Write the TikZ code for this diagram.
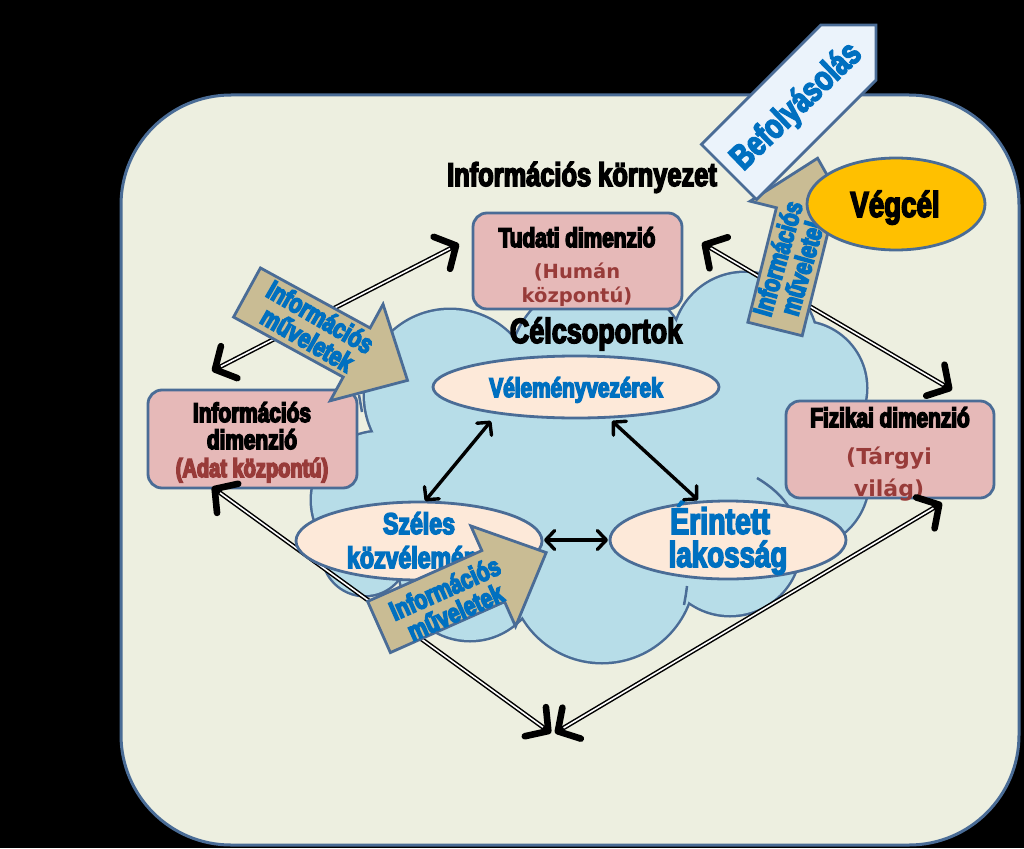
\documentclass[tikz,border=0pt]{standalone}
\usepackage{fontspec}
\usetikzlibrary{arrows.meta,shapes.geometric}
\newfontfamily\imp{Liberation Sans}[FakeStretch=0.77]
\newfontfamily\dvs{DejaVu Sans}
\newcommand\myfs[1]{\fontsize{#1}{#1}\selectfont}
\newcommand\heavy{\special{pdf:literal direct 2 Tr 1.5 w}}
\definecolor{envfill}{HTML}{EDEFE0}
\definecolor{bord}{HTML}{4A6C96}
\definecolor{cloudc}{HTML}{B7DDE8}
\definecolor{boxpink}{HTML}{E6B9B8}
\definecolor{peach}{HTML}{FDE9D9}
\definecolor{gold}{HTML}{FFC000}
\definecolor{tanc}{HTML}{C9BC94}
\definecolor{befc}{HTML}{EBF3FB}
\definecolor{bluet}{HTML}{0070C0}
\definecolor{redt}{HTML}{983B39}
\tikzset{
  dimbox/.style={fill=boxpink,draw=bord,line width=2.8pt,rounded corners=14pt,inner sep=0pt},
  grpell/.style={ellipse,fill=peach,draw=bord,line width=2.8pt,inner sep=0pt},
  itxt/.style={inner sep=0pt,anchor=base},
  blk/.style={font=\imp\bfseries\myfs{27}\heavy,text=black},
  rimp/.style={font=\imp\bfseries\myfs{26}\heavy,text=redt},
  bimp/.style={text=bluet},
  dblarr/.style={line width=4.6pt,black,{Straight Barb[round,length=16pt,width=36pt,line width=2pt 1]}-{Straight Barb[round,length=16pt,width=36pt,line width=2pt 1]}},
  dblcore/.style={white,line width=1.6pt,shorten <=10pt,shorten >=10pt},
  sarr/.style={line width=3.4pt,black,{Straight Barb[round,length=9pt,width=19pt]}-{Straight Barb[round,length=9pt,width=19pt]}},
  tanarr/.style={fill=tanc,draw=bord,line width=2.8pt,line join=miter},
  befarr/.style={fill=befc,draw=bord,line width=2.8pt,line join=miter},
  opstxt/.style={inner sep=0pt,align=center,text=bluet,font=\imp\bfseries\myfs{27}\heavy},
}
\begin{document}
\begin{tikzpicture}[x=1pt,y=-1pt]
\useasboundingbox (0,0) rectangle (1024,848);
\fill[black] (0,0) rectangle (1024,848);
% environment
\draw[fill=envfill,draw=bord,line width=3pt,rounded corners=110pt] (121,95) rectangle (1019,845);
\node[itxt,blk,font=\imp\bfseries\myfs{33}\heavy] (title) at (582,186) {Információs környezet};
% cloud
\foreach \cx/\cy/\r in {450/395/85,380/500/68,365/553/42,470/570/70,602/570/92,730/545/70,800/480/68,800/388/66,745/345/72,600/370/90}
  \draw[bord,line width=5pt] (\cx,\cy) circle (\r pt);
\foreach \cx/\cy/\r in {450/395/85,380/500/68,365/553/42,470/570/70,602/570/92,730/545/70,800/480/68,800/388/66,745/345/72,600/370/90}
  \fill[cloudc] (\cx,\cy) circle (\r pt);
\fill[cloudc] (590,470) ellipse (220pt and 130pt);
\draw[bord,line width=2.5pt] (757,478) .. controls (772,487) and (783,497) .. (790,509);
\draw[bord,line width=2.5pt] (687,586) .. controls (686,594) .. (684,605);
\draw[bord,line width=2.5pt] (359,395) -- (362,412);
% dimension boxes
\node[dimbox,minimum width=209pt,minimum height=96pt] (tud) at (577.5,261) {};
\node[itxt,blk] (tudA) at (577,247) {Tudati dimenzió};
\node[itxt,font=\dvs\bfseries\myfs{19.5},text=redt] (tudB) at (577,278) {(Humán};
\node[itxt,font=\dvs\bfseries\myfs{19.5},text=redt] (tudC) at (577,302) {központú)};
\node[dimbox,minimum width=209pt,minimum height=98pt] (inf) at (252.5,439) {};
\node[itxt,blk] (infA) at (252,422) {Információs};
\node[itxt,blk] (infB) at (252,449) {dimenzió};
\node[itxt,rimp] (infC) at (252,477) {(Adat központú)};
\node[dimbox,minimum width=208pt,minimum height=97pt] (fiz) at (890,449.5) {};
\node[itxt,blk] (fizA) at (890,427) {Fizikai dimenzió};
\node[itxt,font=\dvs\bfseries\myfs{22},text=redt] (fizB) at (889,464) {(Tárgyi};
\node[itxt,font=\dvs\bfseries\myfs{22},text=redt] (fizC) at (889,496) {világ)};
\node[itxt,blk,font=\imp\bfseries\myfs{35}\heavy] (cel) at (596,343) {Célcsoportok};
% double-line connectors
\coordinate (tlA) at (212,371); \coordinate (tlB) at (459,244);
\coordinate (trA) at (702,243); \coordinate (trB) at (952,390);
\coordinate (blA) at (212,487); \coordinate (blB) at (551,733);
\coordinate (brA) at (942,503); \coordinate (brB) at (555,733);
\foreach \a/\b in {tlA/tlB,trA/trB,blA/blB,brA/brB}{
  \draw[dblarr] (\a) -- (\b);
  \draw[dblcore] (\a) -- (\b);
}
% target groups
\node[grpell,minimum width=286pt,minimum height=62pt] (vel) at (576,387) {};
\node[itxt,bimp,font=\imp\bfseries\myfs{27}\heavy] (velT) at (576,397) {Véleményvezérek};
\node[grpell,minimum width=246pt,minimum height=78pt] (sze) at (419,541) {};
\node[itxt,bimp,font=\imp\bfseries\myfs{30}\heavy] (szeA) at (419,534) {Széles};
\node[itxt,bimp,font=\imp\bfseries\myfs{30}\heavy] (szeB) at (419,568) {közvélemény};
\node[grpell,minimum width=236pt,minimum height=78pt] (eri) at (728,540) {};
\node[itxt,bimp,font=\imp\bfseries\myfs{37}\heavy] (eriA) at (720,534) {Érintett};
\node[itxt,bimp,font=\imp\bfseries\myfs{36}\heavy] (eriB) at (728,567) {lakosság};
\coordinate (vs1) at (491,421); \coordinate (vs2) at (425,501);
\coordinate (ve1) at (612,421); \coordinate (ve2) at (698,500);
\coordinate (se1) at (544,540); \coordinate (se2) at (608,540);
\draw[sarr] (vs1) -- (vs2);
\draw[sarr] (ve1) -- (ve2);
\draw[sarr] (se1) -- (se2);
% information operations arrows
\begin{scope}[shift={(247,292.5)},rotate=-28.7]
  \draw[tanarr] (0,-28) -- (125,-28) -- (125,-55) -- (183,0) -- (125,55) -- (125,28) -- (0,28) -- cycle;
\end{scope}
\node[opstxt,rotate=-30] (ops1) at (314,328) {Információs\\[-1pt]műveletek};
\begin{scope}[shift={(379,627)},rotate=24]
  \draw[tanarr] (0,-28) -- (125,-28) -- (125,-55) -- (183,0) -- (125,55) -- (125,28) -- (0,28) -- cycle;
\end{scope}
\node[opstxt,rotate=24] (ops2) at (450,600) {Információs\\[-1pt]műveletek};
\begin{scope}[shift={(775,329)},rotate=76]
  \draw[tanarr] (0,-28) -- (118,-28) -- (118,-55) -- (176,0) -- (118,55) -- (118,28) -- (0,28) -- cycle;
\end{scope}
\node[opstxt,rotate=74] (ops3) at (790,262) {Információs\\[-1pt]műveletek};
% influence arrow
\begin{scope}[shift={(729,172)},rotate=45]
  \draw[befarr] (0,-39) -- (169,-39) -- (208,0) -- (169,39) -- (0,39) -- cycle;
\end{scope}
\node[inner sep=0pt,rotate=44,text=bluet,font=\imp\bfseries\myfs{35}\heavy] (bef) at (797,107) {Befolyásolás};
% end goal
\node[ellipse,fill=gold,draw=bord,line width=2.8pt,minimum width=178pt,minimum height=92pt,inner sep=0pt] (veg) at (896,204) {};
\node[itxt,blk,font=\imp\bfseries\myfs{36}\heavy] (vegT) at (895,217) {Végcél};
\end{tikzpicture}
\end{document}
